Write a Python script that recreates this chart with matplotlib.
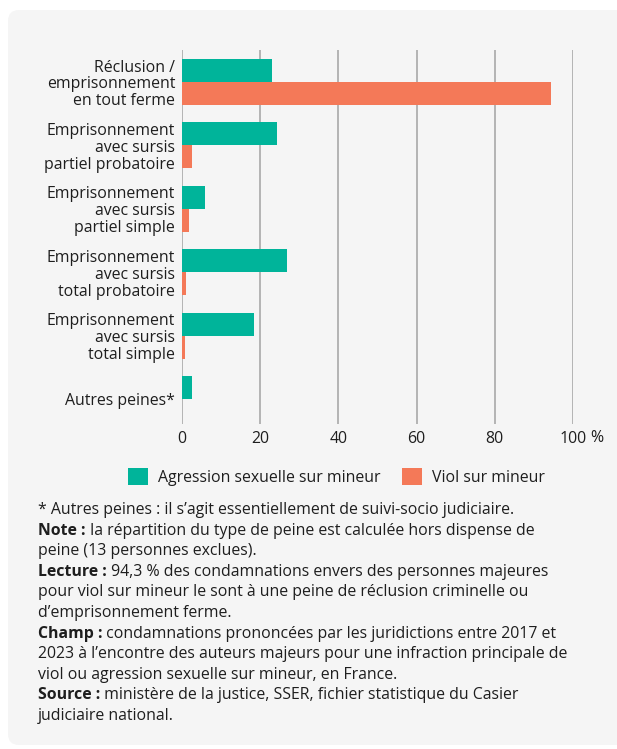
import numpy as np
import matplotlib.pyplot as plt
from matplotlib.patches import FancyBboxPatch
from matplotlib.transforms import IdentityTransform

plt.rcParams["font.family"] = ["Open Sans", "DejaVu Sans"]

categories = [
    "Réclusion /\nemprisonnement\nen tout ferme",
    "Emprisonnement\navec sursis\npartiel probatoire",
    "Emprisonnement\navec sursis\npartiel simple",
    "Emprisonnement\navec sursis\ntotal probatoire",
    "Emprisonnement\navec sursis\ntotal simple",
    "Autres peines*",
]
agression = [22.9, 24.2, 5.8, 26.8, 18.3, 2.5]
viol = [94.3, 2.5, 1.7, 0.9, 0.7, 0.0]
x_ticks = [0, 20, 40, 60, 80, 100]

TEAL = "#00B49A"
ORANGE = "#F47958"
TXT = "#1e1e1e"
FS = 11.4

W, H = 617, 749
fig = plt.figure(figsize=(W / 100, H / 100), dpi=100)
fig.patch.set_facecolor("white")

# grey card behind everything
card = FancyBboxPatch((8, 4), 640, H - 14, boxstyle="round,pad=0,rounding_size=11",
                      transform=IdentityTransform(), facecolor="#f5f5f5",
                      edgecolor="none", zorder=-10)
fig.patches.append(card)

# axes placed in pixel geometry of the reference
left, right, top, bottom = 182, 573, 50, 424
ax = fig.add_axes([left / W, 1 - bottom / H, (right - left) / W, (bottom - top) / H])
ax.set_facecolor("none")

y = np.arange(len(categories))
h = 0.363
ax.barh(y - h / 2, agression, height=h, color=TEAL, label="Agression sexuelle sur mineur", zorder=3)
ax.barh(y + h / 2, viol, height=h, color=ORANGE, label="Viol sur mineur", zorder=3)

ax.set_xlim(0, 100)
ax.set_ylim(5.394, -0.505)
ax.set_yticks(y)
ax.set_yticklabels(categories, fontsize=FS, color=TXT, linespacing=1.08)
ax.set_xticks(x_ticks)
ax.set_xticklabels([str(v) for v in x_ticks], fontsize=FS, color=TXT)
ax.tick_params(axis="both", length=0, pad=5)
ax.grid(axis="x", color="#a9a9a9", lw=1.2, zorder=0)
for s in ax.spines.values():
    s.set_visible(False)
fig.text(590 / W, 1 - 438 / H, "%", fontsize=FS, color=TXT, va="center", ha="left")

leg = fig.legend(loc="center left", bbox_to_anchor=(114 / W, 1 - 477 / H), ncol=2,
                 frameon=False, fontsize=FS, handlelength=1.25, handleheight=1.25,
                 handletextpad=0.6, columnspacing=1.4)
for t in leg.get_texts():
    t.set_color(TXT)

notes = [
    ("* Autres peines : il s\u2019agit essentiellement de suivi-socio judiciaire.", None),
    ("la répartition du type de peine est calculée hors dispense de", "Note :"),
    ("peine (13 personnes exclues).", None),
    ("94,3 % des condamnations envers des personnes majeures", "Lecture :"),
    ("pour viol sur mineur le sont à une peine de réclusion criminelle ou", None),
    ("d\u2019emprisonnement ferme.", None),
    ("condamnations prononcées par les juridictions entre 2017 et", "Champ :"),
    ("2023 à l\u2019encontre des auteurs majeurs pour une infraction principale de", None),
    ("viol ou agression sexuelle sur mineur, en France.", None),
    ("ministère de la justice, SSER, fichier statistique du Casier", "Source :"),
    ("judiciaire national.", None),
]
y0 = 510
for i, (txt, bold) in enumerate(notes):
    yy = 1 - (y0 + i * 20.6) / H
    if bold:
        b = fig.text(38 / W, yy, bold, fontsize=FS, fontweight="bold", color=TXT, va="center")
        ax.annotate(" " + txt, xy=(1, 0), xycoords=b, va="bottom", ha="left",
                    fontsize=FS, color=TXT, annotation_clip=False)
    else:
        fig.text(38 / W, yy, txt, fontsize=FS, color=TXT, va="center")

fig.savefig("out.png", dpi=100, facecolor=fig.get_facecolor())
